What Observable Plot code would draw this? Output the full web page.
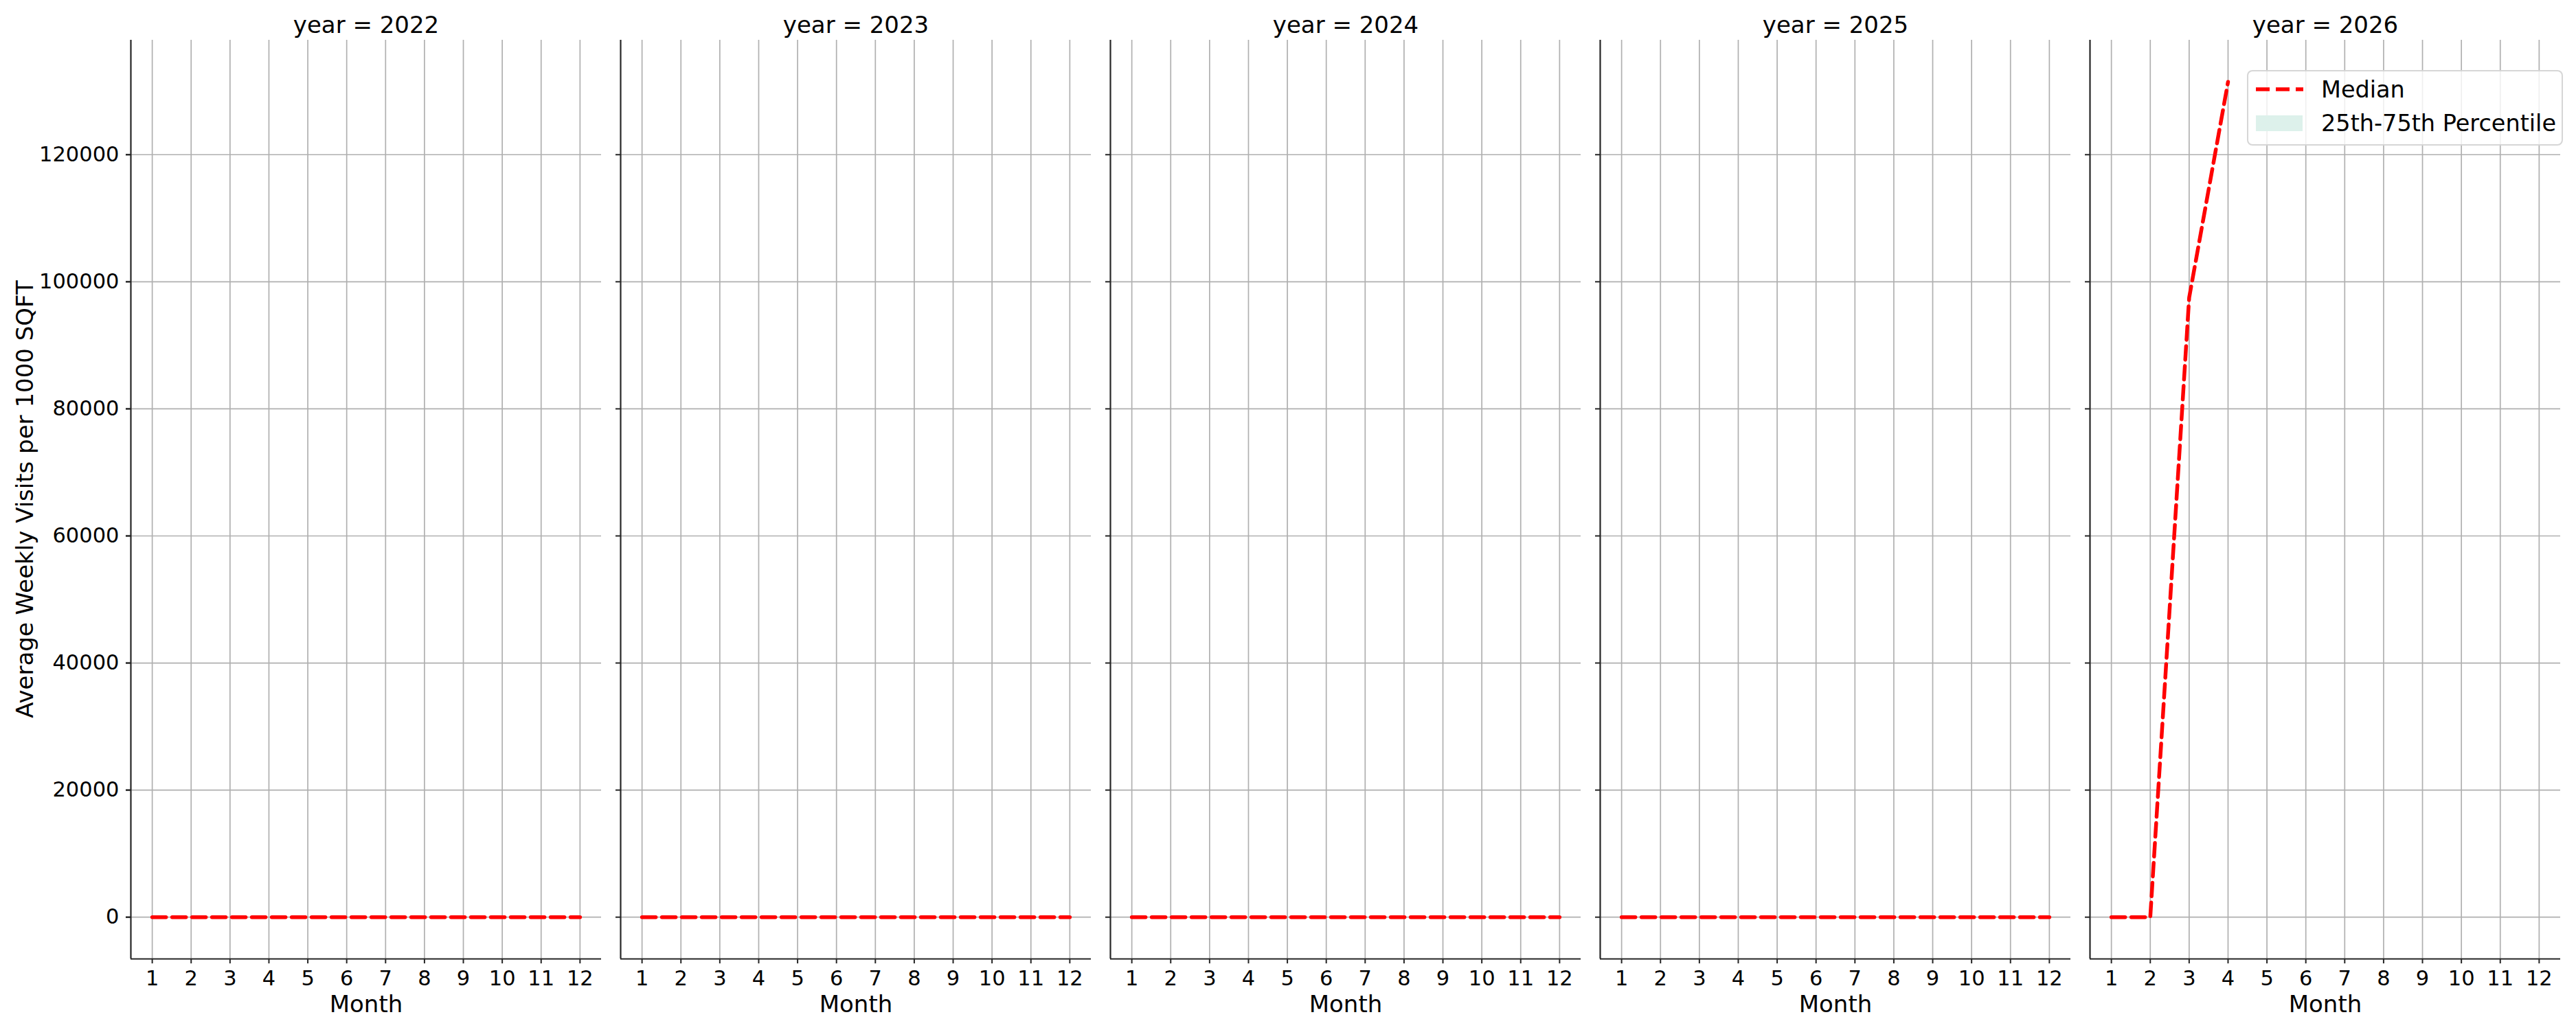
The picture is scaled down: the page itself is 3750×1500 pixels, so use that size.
<!DOCTYPE html>
<html>
<head>
<meta charset="utf-8">
<script src="https://cdn.jsdelivr.net/npm/d3@7"></script>
<script src="https://cdn.jsdelivr.net/npm/@observablehq/plot@0.6"></script>
<style>
  html, body { margin: 0; padding: 0; background: #fff; }
  #wrap { position: relative; width: 3750px; height: 1500px; font-family: "DejaVu Sans", sans-serif; }
  #ylabel { position: absolute; left: 36px; top: 727px; transform: translate(-50%, -50%) rotate(-90deg); font-size: 34px; white-space: nowrap; color: #000; }
  #legend { position: absolute; left: 3271px; top: 102px; width: 456px; height: 106px; border: 2px solid rgba(204,204,204,0.8); border-radius: 8px; background: rgba(255,255,255,0.8); }
  #legend svg { position: absolute; left: 0; top: 0; }
</style>
</head>
<body>
<div id="wrap">
  <div id="chart"></div>
  <div id="ylabel">Average Weekly Visits per 1000 SQFT</div>
  <div id="legend"></div>
</div>
<script>
// ---- data ----
const years = [2022, 2023, 2024, 2025, 2026];
const months = [1, 2, 3, 4, 5, 6, 7, 8, 9, 10, 11, 12];
const median2022 = [0, 0, 0, 0, 0, 0, 0, 0, 0, 0, 0, 0];
const median2023 = [0, 0, 0, 0, 0, 0, 0, 0, 0, 0, 0, 0];
const median2024 = [0, 0, 0, 0, 0, 0, 0, 0, 0, 0, 0, 0];
const median2025 = [0, 0, 0, 0, 0, 0, 0, 0, 0, 0, 0, 0];
const median2026 = [0, 0, 97500, 131450];
const p25_2026 = [0, 0, 97500, 131450];
const p75_2026 = [0, 0, 97500, 131450];
const yTicks = [0, 20000, 40000, 60000, 80000, 100000, 120000];
const xTicks = months;

const medians = {2022: median2022, 2023: median2023, 2024: median2024, 2025: median2025, 2026: median2026};
const p25s = {2022: median2022, 2023: median2023, 2024: median2024, 2025: median2025, 2026: p25_2026};
const p75s = {2022: median2022, 2023: median2023, 2024: median2024, 2025: median2025, 2026: p75_2026};

const rows = [];
for (const yr of years) {
  medians[yr].forEach((v, i) => rows.push({year: yr, month: months[i], median: v, p25: p25s[yr][i], p75: p75s[yr][i]}));
}

// matplotlib-like 5% margins
const [xmin, xmax] = d3.extent(months);
const xPad = (xmax - xmin) * 0.05;
const xDomain = [xmin - xPad, xmax + xPad];
const ymin = d3.min(rows, d => d.p25), ymax = d3.max(rows, d => d.p75);
const yPad = (ymax - ymin) * 0.05;
const yDomain = [ymin - yPad, ymax + yPad];

const axisColor = "#262626";
const gridColor = "#b0b0b0";

const chart = Plot.plot({
  width: 3750,
  height: 1500,
  marginLeft: 188,
  marginRight: 21,
  marginTop: 58,
  marginBottom: 104,
  style: {fontFamily: "DejaVu Sans, sans-serif", fontSize: "30px", background: "#fff", color: "#000"},
  fx: {domain: years, paddingInner: 0.039, paddingOuter: 0},
  x: {domain: xDomain},
  y: {domain: yDomain},
  marks: [
    Plot.gridX({ticks: xTicks, stroke: gridColor, strokeOpacity: 1, strokeWidth: 1.7}),
    Plot.gridY({ticks: yTicks, stroke: gridColor, strokeOpacity: 1, strokeWidth: 1.7}),
    Plot.ruleX([xDomain[0]], {stroke: axisColor, strokeWidth: 2.2}),
    Plot.ruleY([yDomain[0]], {stroke: axisColor, strokeWidth: 2.2}),
    Plot.axisFx({anchor: "top", tickSize: 0, tickPadding: 11, tickFormat: d => `year = ${d}`, label: null, fontSize: 34}),
    Plot.axisY({ticks: yTicks, tickSize: 7, tickFormat: () => "", label: null, stroke: axisColor, strokeWidth: 2, facetAnchor: null}),
    Plot.axisY({ticks: yTicks, tickSize: 7, tickPadding: 10, tickFormat: d3.format("d"), label: null, stroke: axisColor, strokeWidth: 2, fontSize: 30.5}),
    Plot.axisX({ticks: xTicks, tickSize: 7, tickPadding: 10, tickFormat: d3.format("d"), label: null, stroke: axisColor, strokeWidth: 2, fontSize: 30.5, facetAnchor: null}),
    Plot.text(["Month"], {frameAnchor: "bottom", lineAnchor: "bottom", dy: 77, fontSize: 34, fill: "#000"}),
    Plot.areaY(rows, {fx: "year", x: "month", y1: "p25", y2: "p75", fill: "#ddf1eb", fillOpacity: 1}),
    Plot.lineY(rows, {fx: "year", x: "month", y: "median", stroke: "red", strokeWidth: 5.5, strokeDasharray: "20,9"})
  ]
});
document.getElementById("chart").appendChild(chart);

// legend (inside the 2026 panel, upper right)
const lg = d3.select("#legend").append("svg").attr("width", 456).attr("height", 106);
lg.append("line").attr("x1", 11).attr("x2", 80).attr("y1", 26).attr("y2", 26)
  .attr("stroke", "red").attr("stroke-width", 5.5).attr("stroke-dasharray", "20,9");
lg.append("text").attr("x", 106).attr("y", 38).attr("font-size", 33.5).attr("font-family", "DejaVu Sans").text("Median");
lg.append("rect").attr("x", 11).attr("y", 64).attr("width", 68).attr("height", 23).attr("fill", "#ddf1eb");
lg.append("text").attr("x", 106).attr("y", 87).attr("font-size", 33.5).attr("font-family", "DejaVu Sans").text("25th-75th Percentile");
</script>
</body>
</html>
